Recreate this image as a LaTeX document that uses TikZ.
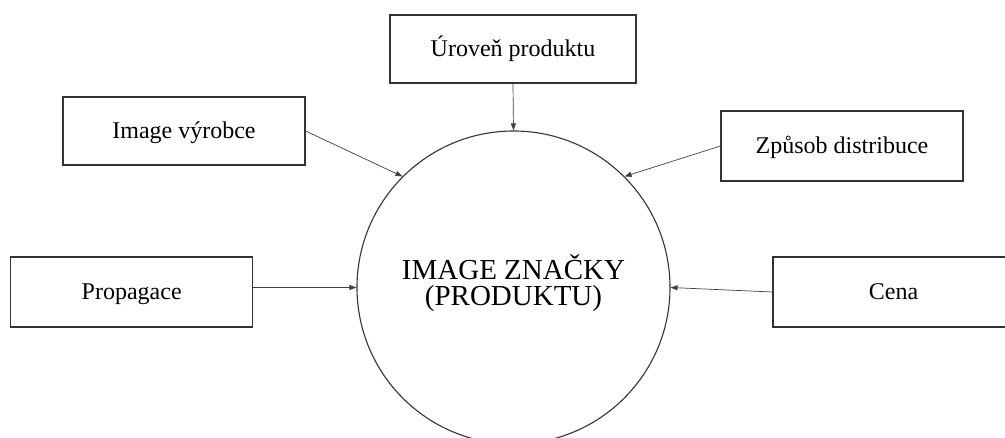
\documentclass[tikz,border=0pt]{standalone}
\usepackage{fontspec}
\setmainfont{Liberation Serif}
\usetikzlibrary{arrows.meta}
\begin{document}
\begin{tikzpicture}[x=1pt,y=-1pt,
  box/.style={draw=black!80, line width=1.1pt, rectangle, minimum width=242pt, minimum height=68pt,
    inner sep=0pt, text height=16pt, text depth=0pt, font=\fontsize{24}{28}\selectfont},
  big/.style={anchor=base, inner sep=0pt, font=\fontsize{29}{32}\selectfont},
  conn/.style={draw=black!75, line width=0.7pt, -{Triangle[length=7pt,width=5pt]}}]
\clip (0,0) rectangle (1005,438);
\fill[white] (0,0) rectangle (1005,438);
\node[draw=black!80, line width=1.1pt, circle, minimum size=313pt, inner sep=0pt] (circ) at (513.5,287.5) {};
\node[big] (t1) at (513.5,279.3) {IMAGE ZNAČKY};
\node[big] (t2) at (513.5,305.7) {(PRODUKTU)};
\node[box, minimum width=246pt] (u) at (513,49) {Úroveň produktu};
\node[box] (iv) at (184,131) {Image výrobce};
\node[box, minimum height=70pt] (zd) at (842,146) {Způsob distribuce};
\node[box, minimum height=70pt] (p) at (131.7,292) {Propagace};
\node[box, minimum height=70pt, minimum width=241pt] (c) at (893.5,292) {Cena};
\draw[conn] (u.south) -- (circ.north);
\draw[conn] (iv.east) -- (circ.135);
\draw[conn] (zd.west) -- (circ.45);
\draw[conn] (p.east |- circ.west) -- (circ.west);
\draw[conn] (c.west) -- (circ.east);
\end{tikzpicture}
\end{document}
